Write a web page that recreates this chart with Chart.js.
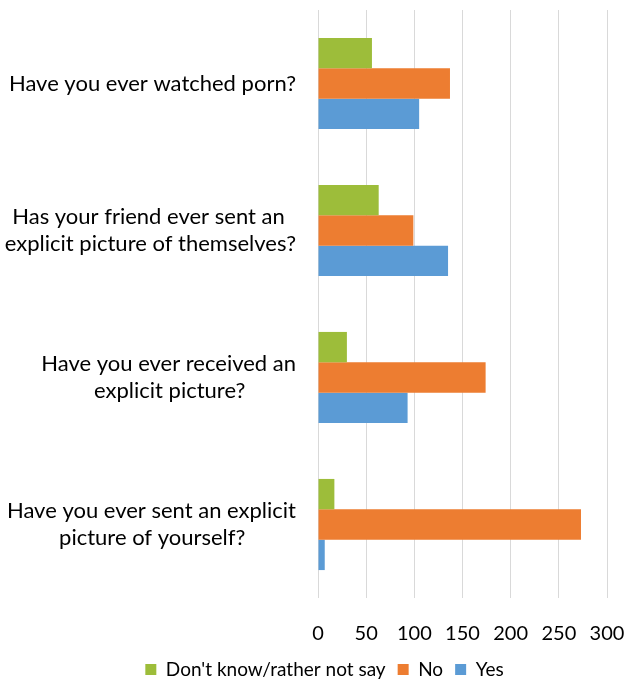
<!DOCTYPE html>
<html>
<head>
<meta charset="utf-8">
<script src="https://cdn.jsdelivr.net/npm/chart.js@4"></script>
<style>
  body { margin: 0; background: #fff; }
</style>
</head>
<body>
<canvas id="chart" width="627" height="679"></canvas>
<script>
// data
const questions = [
    ['Have you ever watched porn?'],
    ['Has your friend ever sent an', 'explicit picture of themselves?'],
    ['Have you ever received an', 'explicit picture?'],
    ['Have you ever sent an explicit', 'picture of yourself?']
];
const dontKnow = [56, 63, 30, 17];
const no = [137, 99, 174, 273];
const yes = [105, 135, 93, 7];
const xTicks = [0, 50, 100, 150, 200, 250, 300];

const labelFont = '22px Lato';

// centre the lines of each label inside its own block by padding with spaces
const measure = document.createElement('canvas').getContext('2d');
measure.font = labelFont;
function centreLines(lines) {
    const widest = Math.max(...lines.map(l => measure.measureText(l).width));
    const space = measure.measureText(' ').width;
    return lines.map(l => {
        const n = Math.round((widest - measure.measureText(l).width) / 2 / space);
        return l + ' '.repeat(n);
    });
}

// the left padding only nudges the legend; let the question labels use the full width
const widenYAxis = {
    id: 'widenYAxis',
    afterLayout: chart => { chart.scales.y.left = 0; }
};

const ctx = document.getElementById('chart').getContext('2d');
new Chart(ctx, {
    type: 'bar',
    data: {
        labels: questions,
        datasets: [
            { label: "Don't know/rather not say", data: dontKnow, backgroundColor: '#9dbd3a' },
            { label: 'No', data: no, backgroundColor: '#ed7d31' },
            { label: 'Yes', data: yes, backgroundColor: '#5b9bd5' }
        ]
    },
    options: {
        indexAxis: 'y',
        responsive: false,
        animation: false,
        datasets: {
            bar: { barPercentage: 1, categoryPercentage: 0.62 }
        },
        layout: { padding: { top: 10, right: 0, bottom: -9, left: 22 } },
        scales: {
            x: {
                min: 0,
                max: 300,
                afterBuildTicks: scale => { scale.ticks = xTicks.map(v => ({ value: v })); },
                afterFit: scale => {
                    scale.height = 50;
                    scale.paddingLeft = 0;
                    scale.paddingRight = 20;
                },
                grid: { color: '#d9d9d9', lineWidth: 1, drawTicks: false },
                border: { display: false },
                ticks: { color: '#000', font: { family: 'Lato', size: 20 }, padding: 24 }
            },
            y: {
                afterFit: scale => {
                    scale.width = 296;
                    scale.paddingTop = 0;
                    scale.paddingBottom = 0;
                },
                grid: { display: false, drawTicks: false },
                border: { display: false },
                ticks: {
                    color: '#000',
                    font: { family: 'Lato', size: 22 },
                    padding: 22,
                    callback: function (value) {
                        return centreLines(questions[value]);
                    }
                }
            }
        },
        plugins: {
            legend: {
                position: 'bottom',
                maxHeight: 40,
                labels: {
                    color: '#000',
                    font: { family: 'Lato', size: 19 },
                    boxWidth: 11,
                    boxHeight: 11,
                    padding: 12
                }
            },
            tooltip: { enabled: false }
        }
    },
    plugins: [widenYAxis]
});
</script>
</body>
</html>
